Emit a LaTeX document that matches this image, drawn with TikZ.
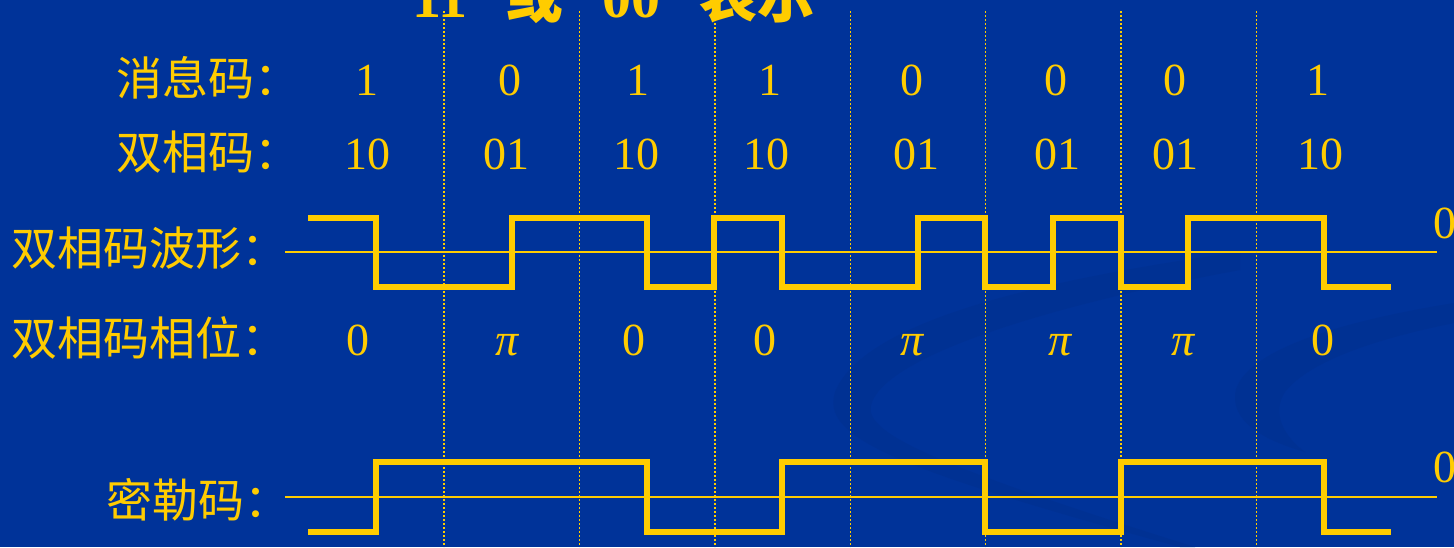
\documentclass[tikz,border=0pt]{standalone}
\usepackage{fontspec}
\setmainfont{Liberation Serif}
\newfontfamily\cjk{Noto Sans CJK SC}
\usepackage{xcolor}
\definecolor{slideblue}{HTML}{003399}
\definecolor{swooshblue}{HTML}{003193}
\definecolor{codeyellow}{HTML}{FFCC00}

\begin{document}
\begin{tikzpicture}[
    x=0.5pt, y=-0.5pt,
    rowlabel/.style={anchor=base west, text=codeyellow, inner sep=0pt, font=\fontsize{23}{27}\selectfont\cjk},
    val/.style={anchor=base, text=codeyellow, inner sep=0pt, font=\fontsize{23}{27}\selectfont},
    headline/.style={anchor=base west, text=codeyellow, inner sep=0pt, font=\fontsize{29}{33}\selectfont\bfseries},
    wave/.style={draw=codeyellow, line width=2.7pt, line join=miter},
    zeroline/.style={draw=codeyellow, line width=0.8pt},
    slot/.style={draw=codeyellow, line width=0.7pt, dash pattern=on 0.8pt off 1.2pt},
]

\fill[slideblue] (0,0) rectangle (1454,547);
\useasboundingbox (0,0) rectangle (1454,547);

\fill[swooshblue] (1240,252) .. controls (1000,285) and (860,330) .. (835,392)
    .. controls (822,435) and (880,465) .. (1180,547) -- (1195,547)
    .. controls (900,455) and (862,428) .. (872,402)
    .. controls (890,355) and (1050,305) .. (1240,270) -- cycle;
\fill[swooshblue] (1454,303) .. controls (1300,328) and (1238,362) .. (1235,395)
    .. controls (1233,425) and (1270,442) .. (1305,452)
    .. controls (1282,435) and (1272,412) .. (1285,392)
    .. controls (1310,360) and (1380,338) .. (1454,323) -- cycle;

\foreach \k in {0,...,6}
    \draw[slot] ({444+135.4*\k},11) -- ({444+135.4*\k},547);

\node[headline] (head) at (383,17) {“11”\,{\cjk 或}\,“00”\,{\cjk 表示}};

\node[rowlabel] (msg) at (116,95) {消息码：};
\node[rowlabel] (bph) at (116,169) {双相码：};
\node[rowlabel] (bphwave) at (11,265) {双相码波形：};
\node[rowlabel] (bphphase) at (11,355) {双相码相位：};
\node[rowlabel] (miller) at (106,517) {密勒码：};

\foreach \x/\v [count=\i] in {367/1,510/0,638/1,770/1,912/0,1056/0,1175/0,1318/1}
    \node[val] (msg-\i) at (\x,95) {\v};
\foreach \x/\v [count=\i] in {367/10,506/01,636/10,766/10,916/01,1057/01,1175/01,1320/10}
    \node[val] (bph-\i) at (\x,169) {\v};
\foreach \x/\v [count=\i] in {358/0,507/{\itshape π},634/0,765/0,912/{\itshape π},1060/{\itshape π},1183/{\itshape π},1323/0}
    \node[val] (phase-\i) at (\x,355) {\v};

\draw[zeroline] (285,252) -- (1437,252);
\draw[zeroline] (285,497) -- (1437,497);
\node[val, anchor=base west] (zero-a) at (1433,238) {0};
\node[val, anchor=base west] (zero-b) at (1433,482) {0};

\draw[wave] (308,218) -| (376,287) -| (512,218) -| (647,287) -| (714,218) -| (782,287)
    -| (918,218) -| (985,287) -| (1053,218) -| (1121,287) -| (1188,218) -| (1324,287) -- (1391,287);
\draw[wave] (308,532) -| (376,462) -| (647,532) -| (782,462) -| (985,532) -| (1121,462)
    -| (1324,532) -- (1391,532);

\end{tikzpicture}
\end{document}
